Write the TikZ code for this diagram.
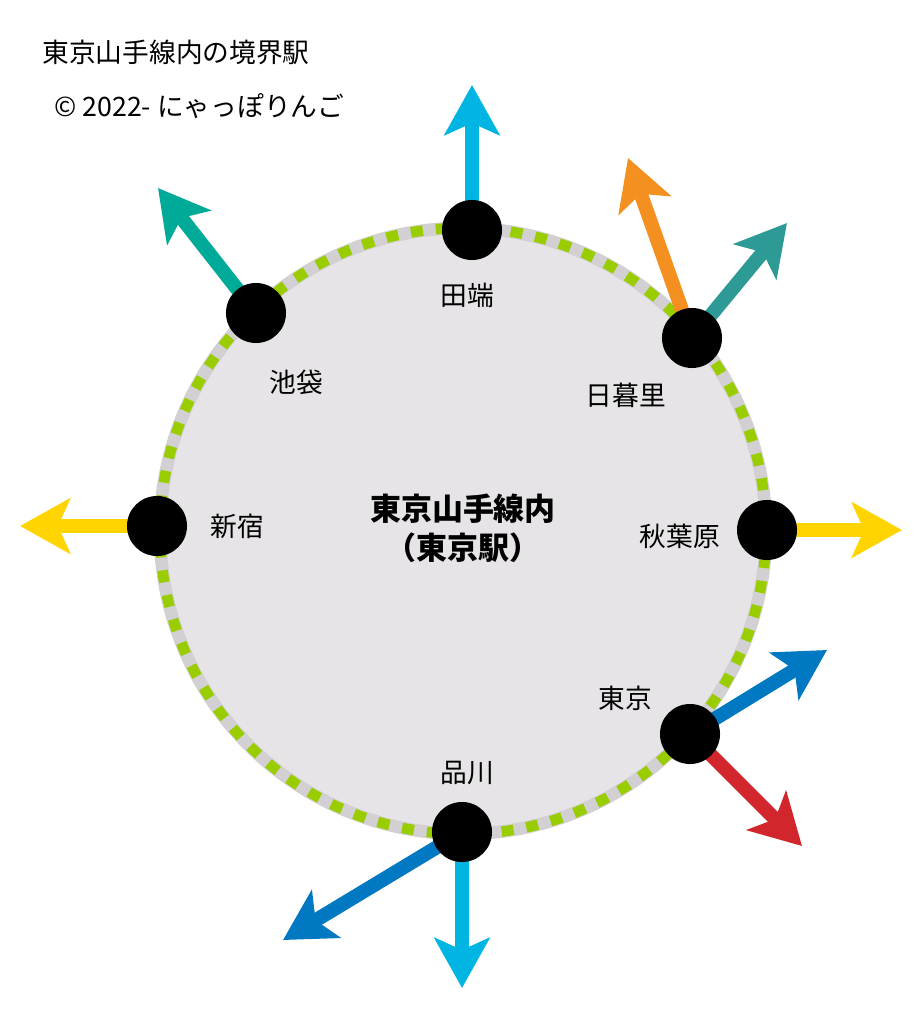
\documentclass[tikz,border=0pt]{standalone}
\usepackage{fontspec}
\setmainfont{Noto Sans CJK JP}
\usetikzlibrary{arrows.meta}
\definecolor{lineGreen}{HTML}{9ACD00}
\definecolor{areaGray}{HTML}{E6E4E6}
\definecolor{cCyan}{HTML}{00B5E2}
\definecolor{cTeal}{HTML}{00AA99}
\definecolor{cTeal2}{HTML}{2E9A96}
\definecolor{cOrange}{HTML}{F39020}
\definecolor{cYellow}{HTML}{FFD400}
\definecolor{cBlue}{HTML}{0079C2}
\definecolor{cRed}{HTML}{D0262C}
\begin{document}
\begin{tikzpicture}[x=0.01cm, y=-0.01cm,
    station/.style={circle, fill=black, minimum size=0.6cm, inner sep=0pt},
    stationlabel/.style={font=\fontsize{7.6}{9}\selectfont},
    exit/.style={line width=4pt, -{Stealth[length=0.5cm, width=0.55cm, inset=0.12cm]}}]

    \useasboundingbox (0,0) rectangle (917,1024);

    % station points
    \coordinate (Tabata) at (472,230);
    \coordinate (Ikebukuro) at (256,313);
    \coordinate (Nippori) at (692,338);
    \coordinate (Shinjuku) at (157,526);
    \coordinate (Akihabara) at (767,530);
    \coordinate (Tokyo) at (690,734);
    \coordinate (Shinagawa) at (462,832);

    % exit ends
    \coordinate (tabataEnd) at (472,85);
    \coordinate (ikebukuroEnd) at (158,188);
    \coordinate (nipporiEndA) at (628,158);
    \coordinate (nipporiEndB) at (787,223);
    \coordinate (shinjukuEnd) at (20,526);
    \coordinate (akihabaraEnd) at (902,530);
    \coordinate (tokyoEndA) at (827,650);
    \coordinate (tokyoEndB) at (802,846);
    \coordinate (shinagawaEndA) at (283,940);
    \coordinate (shinagawaEndB) at (462,988);

    % area and loop line
    \fill[areaGray] (463,531) circle (303);
    \draw[areaGray!80!gray, line width=3.6pt] (463,531) circle (303);
    \draw[lineGreen, line width=3pt, dash pattern=on 0.12cm off 0.13cm] (463,531) circle (303);

    % exits
    \draw[exit, cCyan] (Tabata) -- (tabataEnd);
    \draw[exit, cTeal] (Ikebukuro) -- (ikebukuroEnd);
    \draw[exit, cOrange] (Nippori) -- (nipporiEndA);
    \draw[exit, cTeal2] (Nippori) -- (nipporiEndB);
    \draw[exit, cYellow] (Shinjuku) -- (shinjukuEnd);
    \draw[exit, cYellow] (Akihabara) -- (akihabaraEnd);
    \draw[exit, cBlue] (Tokyo) -- (tokyoEndA);
    \draw[exit, cRed] (Tokyo) -- (tokyoEndB);
    \draw[exit, cBlue] (Shinagawa) -- (shinagawaEndA);
    \draw[exit, cCyan] (Shinagawa) -- (shinagawaEndB);

    % stations
    \foreach \s in {Tabata, Ikebukuro, Nippori, Shinjuku, Akihabara, Tokyo, Shinagawa}
        \node[station] (\s Dot) at (\s) {};

    \node[stationlabel] (tabataLabel) at (467,295) {田端};
    \node[stationlabel] (ikebukuroLabel) at (296,382) {池袋};
    \node[stationlabel] (nipporiLabel) at (626,395) {日暮里};
    \node[stationlabel] (shinjukuLabel) at (237,526) {新宿};
    \node[stationlabel] (akihabaraLabel) at (680,536) {秋葉原};
    \node[stationlabel] (tokyoLabel) at (625,698) {東京};
    \node[stationlabel] (shinagawaLabel) at (467,773) {品川};

    \node[font=\fontsize{8.8}{11}\selectfont\bfseries, align=center] (area) at (463,528) {東京山手線内\\（東京駅）};
    \node[stationlabel, anchor=west] (title) at (30,52) {東京山手線内の境界駅};
    \node[stationlabel, anchor=west] (credit) at (42,106) {© 2022- にゃっぽりんご};

\end{tikzpicture}
\end{document}
